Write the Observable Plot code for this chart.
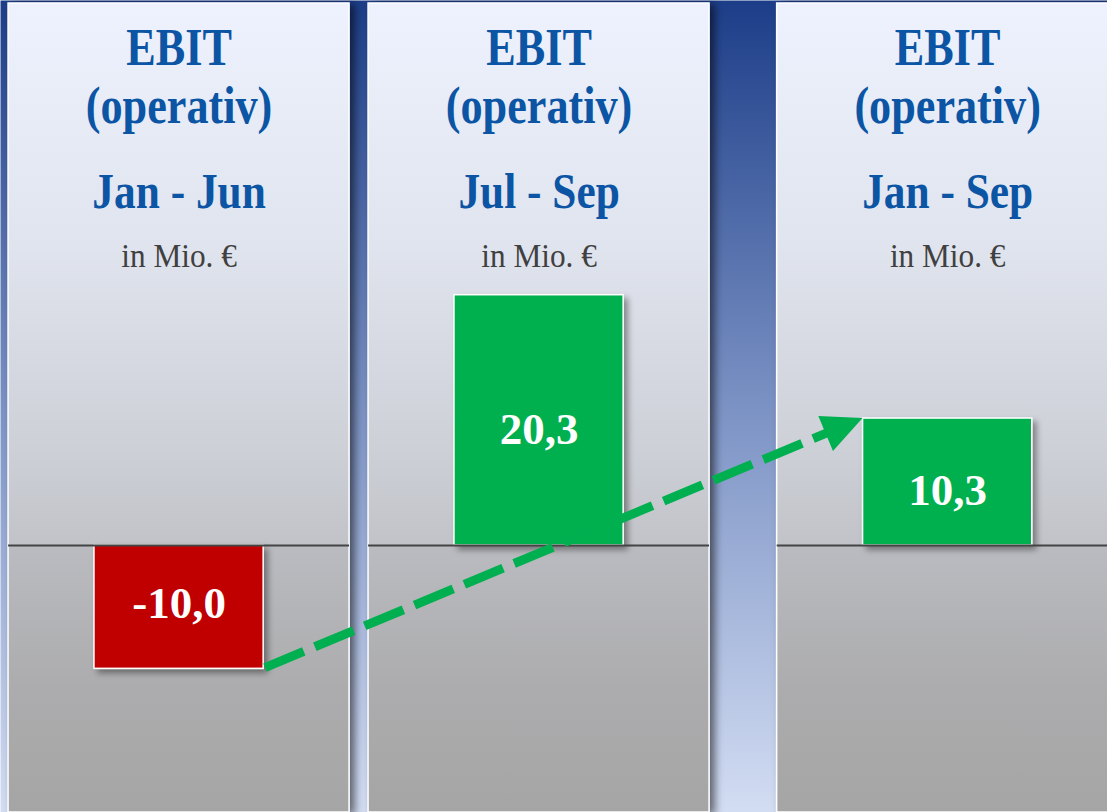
<!DOCTYPE html>
<html>
<head>
<meta charset="utf-8">
<script src="https://cdn.jsdelivr.net/npm/d3@7"></script>
<script src="https://cdn.jsdelivr.net/npm/@observablehq/plot@0.6"></script>
<style>
  html, body { margin: 0; padding: 0; background: #fff; overflow: hidden; }
  #chart svg { display: block; }
</style>
</head>
<body>
<div id="chart"></div>
<script>
// ---- data ----
const metricLine1 = "EBIT";
const metricLine2 = "(operativ)";
const periods = ["Jan - Jun", "Jul - Sep", "Jan - Sep"];
const values = [-10.0, 20.3, 10.3];
const unitLabel = "in Mio. €";

// ---- layout (panel slots along x; the total panel is set apart) ----
const slots = [0, 1, 2.135];
const PANEL_HALF = 0.4736;
const BAR_HALF = 0.235;

const de = d3.formatLocale({decimal: ",", thousands: ".", grouping: [3], currency: ["", " €"], minus: "-"});
const fmt = de.format(".1f");

const rows = periods.map((p, i) => ({period: p, value: values[i], slot: slots[i], label: fmt(values[i])}));
const arrowFrom = rows[0];
const arrowTo = rows[2];

const W = 1107, H = 812;
const TITLE_BLUE = "#0b55a4";
const SERIF = "Liberation Serif, Times New Roman, serif";

const defsMark = () => {
  const defs = d3.create("svg:defs");
  const bg = defs.append("linearGradient").attr("id", "bgGrad").attr("x1", 0).attr("y1", 0).attr("x2", 0).attr("y2", 1);
  bg.append("stop").attr("offset", 0).attr("stop-color", "#1c3d88");
  bg.append("stop").attr("offset", 0.5).attr("stop-color", "#7b92c4");
  bg.append("stop").attr("offset", 1).attr("stop-color", "#d3ddf3");
  const pg = defs.append("linearGradient").attr("id", "panelGrad").attr("x1", 0).attr("y1", 0).attr("x2", 0).attr("y2", 1);
  [[0, "#edf2fe"], [0.3, "#e0e4ee"], [0.55, "#cdd0d7"], [0.67, "#c1c3c8"], [0.672, "#babbc0"], [0.85, "#acacae"], [1, "#a5a5a5"]]
    .forEach(([o, c]) => pg.append("stop").attr("offset", o).attr("stop-color", c));
  const ps = defs.append("filter").attr("id", "panelShadow").attr("x", "-10%").attr("y", "-10%").attr("width", "130%").attr("height", "130%");
  ps.append("feDropShadow").attr("dx", 5).attr("dy", 2).attr("stdDeviation", 4).attr("flood-color", "#000").attr("flood-opacity", 0.55);
  const bs = defs.append("filter").attr("id", "barShadow").attr("x", "-20%").attr("y", "-20%").attr("width", "150%").attr("height", "150%");
  bs.append("feDropShadow").attr("dx", 4).attr("dy", 4).attr("stdDeviation", 3).attr("flood-color", "#000").attr("flood-opacity", 0.4);
  return defs.node();
};

const arrowMark = (index, scales) => {
  const x = scales.x, y = scales.y;
  const x1 = x(arrowFrom.slot + BAR_HALF), y1 = y(arrowFrom.value);
  const x2 = x(arrowTo.slot - BAR_HALF), y2 = y(arrowTo.value);
  const ang = Math.atan2(y2 - y1, x2 - x1);
  const c = Math.cos(ang), s = Math.sin(ang);
  const headLen = 40, headW = 38;
  const bx = x2 - headLen * c, by = y2 - headLen * s;
  const g = d3.create("svg:g");
  g.append("line")
    .attr("x1", x1 + 2 * c).attr("y1", y1 + 2 * s)
    .attr("x2", bx + 2 * c).attr("y2", by + 2 * s)
    .attr("stroke", "#00b050").attr("stroke-width", 9)
    .attr("stroke-dasharray", "42,12").attr("stroke-linecap", "butt");
  g.append("path")
    .attr("d", `M${x2},${y2}L${bx - s * headW / 2},${by + c * headW / 2}L${bx + s * headW / 2},${by - c * headW / 2}Z`)
    .attr("fill", "#00b050");
  return g.node();
};

const chart = Plot.plot({
  width: W,
  height: H,
  margin: 0,
  style: {background: "transparent", overflow: "visible"},
  x: {type: "linear", domain: [-0.496, 2.579], range: [0, W], axis: null},
  y: {type: "linear", domain: [-21.65, 44.2], range: [H, 0], axis: null},
  marks: [
    defsMark,
    Plot.frame({fill: "url(#bgGrad)", stroke: "none"}),
    Plot.rect(rows, {x1: d => d.slot - PANEL_HALF, x2: d => d.slot + PANEL_HALF, insetTop: 3,
      fill: "url(#panelGrad)", stroke: "white", strokeWidth: 1.5}),
    Plot.text(rows, {x: "slot", text: () => metricLine1, frameAnchor: "top", lineAnchor: "top", dy: 28,
      fontSize: 52, fontWeight: "bold", fontFamily: SERIF, fill: TITLE_BLUE}),
    Plot.text(rows, {x: "slot", text: () => metricLine2, frameAnchor: "top", lineAnchor: "top", dy: 86,
      fontSize: 52, fontWeight: "bold", fontFamily: SERIF, fill: TITLE_BLUE}),
    Plot.text(rows, {x: "slot", text: "period", frameAnchor: "top", lineAnchor: "top", dy: 171,
      fontSize: 51, fontWeight: "bold", fontFamily: SERIF, fill: TITLE_BLUE}),
    Plot.text(rows, {x: "slot", text: () => unitLabel, frameAnchor: "top", lineAnchor: "top", dy: 242,
      fontSize: 34, fontFamily: SERIF, fill: "#404040"}),
    Plot.rect(rows.filter(d => d.value < 0), {x1: d => d.slot - BAR_HALF, x2: d => d.slot + BAR_HALF,
      y1: 0, y2: "value", fill: "#c00000", stroke: "#ffffff", strokeWidth: 1.5}),
    Plot.rect(rows.filter(d => d.value >= 0), {x1: d => d.slot - BAR_HALF, x2: d => d.slot + BAR_HALF,
      y1: 0, y2: "value", fill: "#00b050", stroke: "#ffffff", strokeWidth: 1.5}),
    Plot.ruleY(rows, {y: 0, x1: d => d.slot - PANEL_HALF, x2: d => d.slot + PANEL_HALF,
      stroke: "#444444", strokeWidth: 2}),
    Plot.text(rows.filter(d => d.value >= 0), {x: "slot", y: d => d.value / 2, text: "label", dy: 9,
      fontSize: 45, fontWeight: "bold", fontFamily: SERIF, fill: "white"}),
    Plot.text(rows.filter(d => d.value < 0), {x: "slot", y: d => d.value / 2, text: "label", dy: -4,
      fontSize: 45, fontWeight: "bold", fontFamily: SERIF, fill: "white"}),
    arrowMark
  ]
});

// visual polish: shadows and the condensed title typeface
const svg = d3.select(chart);
svg.selectAll('g[stroke="white"]').attr("filter", "url(#panelShadow)");
svg.selectAll('g[stroke="#ffffff"]').attr("filter", "url(#barShadow)");
[["52", 0.85], ["51", 0.85], ["34", 0.92]].forEach(([fs, k]) => {
  svg.selectAll(`g[font-size="${fs}"] text`).each(function () {
    const t = this.getAttribute("transform") || "";
    this.setAttribute("transform", `${t} scale(${k},1)`);
  });
});

document.getElementById("chart").append(chart);
</script>
</body>
</html>
